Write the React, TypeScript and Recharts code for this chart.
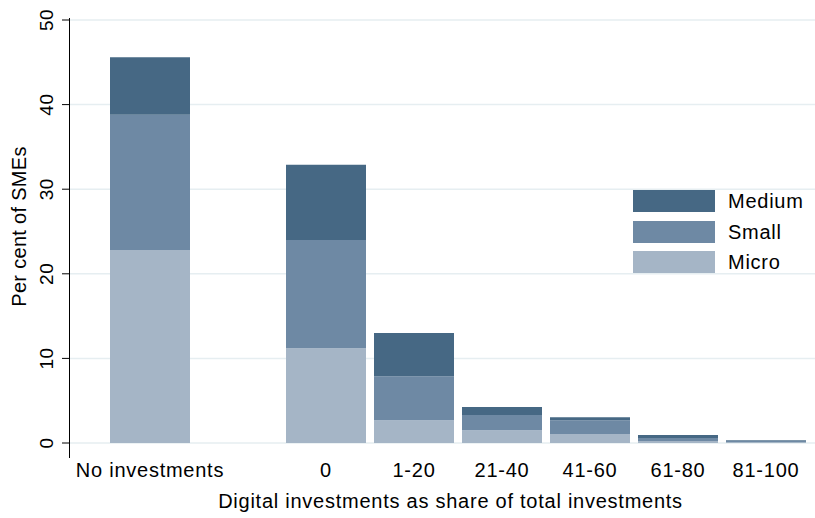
import React from "react";
import { BarChart, Bar, XAxis, YAxis, CartesianGrid } from "recharts";

const categories = ["No investments", "", "0", "1-20", "21-40", "41-60", "61-80", "81-100"];
const microValues = [22.8, null, 11.2, 2.7, 1.5, 1.05, 0.25, 0.1];
const smallValues = [16.0, null, 12.8, 5.2, 1.8, 1.65, 0.35, 0.2];
const mediumValues = [6.8, null, 8.9, 5.1, 0.95, 0.35, 0.35, 0.05];
const yTicks = [0, 10, 20, 30, 40, 50];

const data = categories.map((c, i) => ({
  cat: c,
  micro: microValues[i],
  small: smallValues[i],
  medium: mediumValues[i],
}));

const COLORS = { medium: "#466884", small: "#6e89a4", micro: "#a5b5c6" };
const FONT = "'Liberation Sans', Arial, Helvetica, sans-serif";
const TXT = "#000";

const XTick = (props: any) => {
  const { x, y, payload } = props;
  return (
    <text x={x} y={y + 34} textAnchor="middle" fontFamily={FONT} fontSize={20} letterSpacing={0.75} fill={TXT}>
      {payload.value}
    </text>
  );
};

const YTick = (props: any) => {
  const { y, payload } = props;
  const tx = 53;
  return (
    <text x={tx} y={y} transform={`rotate(-90, ${tx}, ${y})`} textAnchor="middle" fontFamily={FONT} fontSize={19} letterSpacing={0.5} fill={TXT}>
      {payload.value}
    </text>
  );
};

const XTitle = (props: any) => {
  const vb = props.viewBox || {};
  return (
    <text x={vb.x + vb.width / 2 + 8} y={vb.y + 65} textAnchor="middle" fontFamily={FONT} fontSize={20} letterSpacing={0.75} fill={TXT}>
      Digital investments as share of total investments
    </text>
  );
};

const YTitle = (props: any) => {
  const vb = props.viewBox || {};
  const tx = 26;
  const ty = vb.y + vb.height / 2 - 5;
  return (
    <text x={tx} y={ty} transform={`rotate(-90, ${tx}, ${ty})`} textAnchor="middle" fontFamily={FONT} fontSize={20} letterSpacing={0.3} fill={TXT}>
      Per cent of SMEs
    </text>
  );
};

const legendItems = [
  { key: "medium", label: "Medium" },
  { key: "small", label: "Small" },
  { key: "micro", label: "Micro" },
];

export default function App() {
  return (
    <div style={{ position: "absolute", left: 0, top: 0, width: 815, height: 518, background: "#fff" }}>
      <BarChart width={815} height={518} data={data} margin={{ top: 20, right: 0, left: 0, bottom: 0 }} barSize={80}>
        <CartesianGrid vertical={false} stroke="#e6eef1" strokeWidth={1.5} />
        <XAxis
          dataKey="cat"
          height={75}
          padding={{ left: 36, right: 5 }}
          axisLine={false}
          tickLine={false}
          tickSize={0}
          tickMargin={0}
          interval={0}
          tick={<XTick />}
          label={{ value: "x", content: <XTitle /> }}
        />
        <YAxis
          width={70}
          domain={[0, 50]}
          ticks={yTicks}
          axisLine={false}
          tickLine={{ stroke: "#000", strokeWidth: 1 }}
          tickSize={8}
          interval={0}
          tick={<YTick />}
          label={{ value: "y", content: <YTitle /> }}
        />
        <Bar dataKey="micro" stackId="a" fill={COLORS.micro} isAnimationActive={false} />
        <Bar dataKey="small" stackId="a" fill={COLORS.small} isAnimationActive={false} />
        <Bar dataKey="medium" stackId="a" fill={COLORS.medium} isAnimationActive={false} />
      </BarChart>
      <div style={{ position: "absolute", left: 69, top: 18, width: 1.2, height: 440, background: "#000" }} />
      <div style={{ position: "absolute", left: 633, top: 190, fontFamily: FONT }}>
        {legendItems.map((it) => (
          <div key={it.key} style={{ display: "flex", alignItems: "center", height: 22, marginBottom: 8.5 }}>
            <div style={{ width: 82, height: 22, background: (COLORS as any)[it.key] }} />
            <span style={{ marginLeft: 13, fontSize: 20, letterSpacing: 0.75, color: TXT, lineHeight: "22px" }}>{it.label}</span>
          </div>
        ))}
      </div>
    </div>
  );
}
